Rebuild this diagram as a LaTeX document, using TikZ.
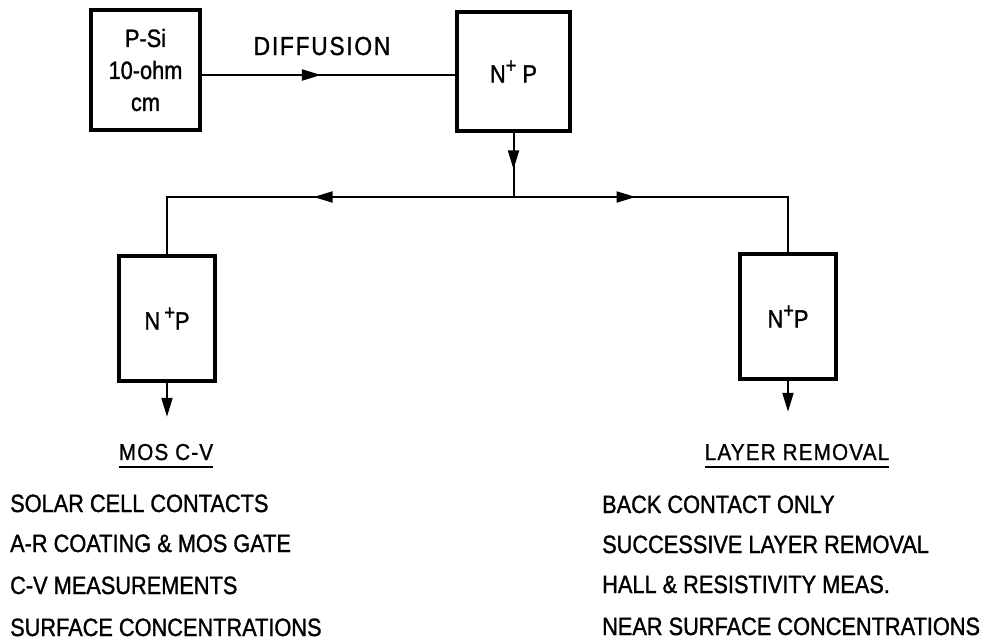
\documentclass[tikz,border=0pt]{standalone}
\usepackage{fontspec}
\setmainfont{Liberation Sans}[FakeStretch=0.87,FakeBold=1.2]
\newfontfamily\spacedfont{Liberation Sans}[FakeStretch=0.87,FakeBold=1.2,LetterSpace=7]
\newfontfamily\headfont{Liberation Sans}[FakeStretch=0.9,FakeBold=1.0,LetterSpace=5]
\usetikzlibrary{arrows.meta,decorations.markings}
\newcommand{\plussup}{\raisebox{0.40em}{\fontsize{21}{21}\selectfont +}}
\tikzset{
  box/.style={draw,line width=3.5pt,inner sep=0pt,align=center,font=\fontsize{25}{32}\selectfont},
  conn/.style={line width=2pt},
  midarrow/.style={postaction={decorate},decoration={markings,
     mark=at position #1 with {\arrow{Triangle[length=19pt,width=11pt]}}}},
  endarrow/.style={-{Triangle[length=19pt,width=11pt]}},
  txt/.style={inner sep=0pt,anchor=base west,font=\fontsize{25}{30}\selectfont},
  head/.style={inner sep=0pt,anchor=base,font=\headfont\fontsize{23}{30}\selectfont},
}
\begin{document}
\begin{tikzpicture}[x=1pt,y=-1pt]
\useasboundingbox (0,0) rectangle (991,641);
% boxes
\node[box,minimum width=109pt,minimum height=120pt] (psi) at (145.5,70) {P-Si\\10-ohm\\cm};
\node[box,minimum width=113pt,minimum height=119pt] (np) at (513.5,71.5) {N\plussup\ P};
\node[box,minimum width=96pt,minimum height=125pt] (npl) at (167,318.5) {N\,\plussup P};
\node[box,minimum width=96pt,minimum height=125pt] (npr) at (788,316.5) {N\plussup P};
% label
\node[inner sep=0pt,anchor=base,font=\spacedfont\fontsize{26}{30}\selectfont] (diff) at (322,55) {DIFFUSION};
% connectors
\coordinate (J) at (np.south |- 0,197);
\coordinate (lc) at (npl.north |- 0,197);
\coordinate (rc) at (npr.north |- 0,197);
\coordinate (lend) at ([yshift=-34pt]npl.south);
\coordinate (rend) at ([yshift=-31pt]npr.south);
\draw[conn,midarrow=0.47] (psi.east |- 0,75) -- (np.west |- 0,75);
\draw[conn,midarrow=0.57] (np.south) -- (J);
\draw[conn,midarrow=0.495] (J) -- (lc) -- (npl.north);
\draw[conn,midarrow=0.37] (J) -- (rc) -- (npr.north);
\draw[conn,endarrow] (npl.south) -- (lend);
\draw[conn,endarrow] (npr.south) -- (rend);
% headings
\node[head] (h1) at (166,460) {MOS C-V};
\node[head] (h2) at (797,460) {LAYER REMOVAL};
\draw[line width=2pt] ([yshift=-7pt]h1.base west) -- ([yshift=-7pt]h1.base east);
\draw[line width=2pt] ([yshift=-7pt]h2.base west) -- ([yshift=-7pt]h2.base east);
% lists
\node[txt] (l1) at (10,512) {SOLAR CELL CONTACTS};
\node[txt] (l2) at (10,552) {A-R COATING \& MOS GATE};
\node[txt] (l3) at (10,594) {C-V MEASUREMENTS};
\node[txt] (l4) at (10,636) {SURFACE CONCENTRATIONS};
\node[txt] (r1) at (602,513) {BACK CONTACT ONLY};
\node[txt] (r2) at (602,553) {SUCCESSIVE LAYER REMOVAL};
\node[txt] (r3) at (602,593) {HALL \& RESISTIVITY MEAS.};
\node[txt] (r4) at (602,635) {NEAR SURFACE CONCENTRATIONS};
\end{tikzpicture}
\end{document}
